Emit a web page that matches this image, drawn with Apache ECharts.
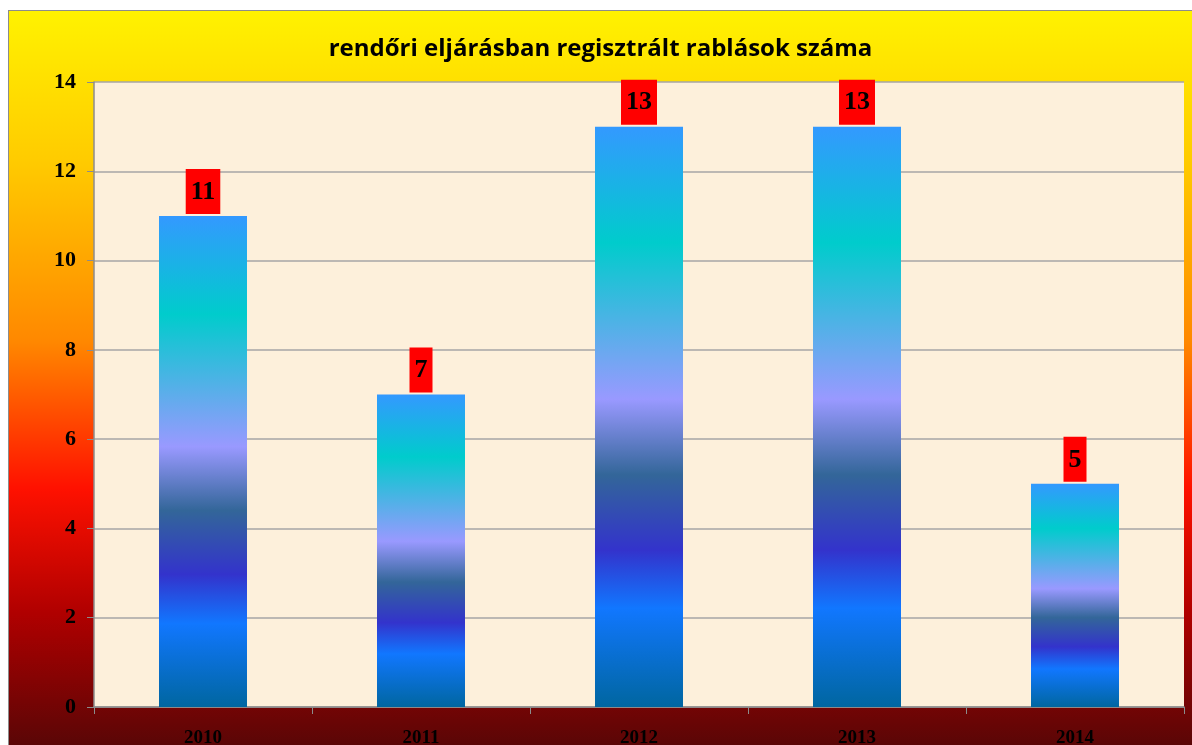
<!DOCTYPE html>
<html>
<head>
<meta charset="utf-8">
<script src="https://cdn.jsdelivr.net/npm/echarts@6/dist/echarts.min.js"></script>
<style>
html, body { margin: 0; padding: 0; background: #fff; }
#main {
    position: absolute; left: 8px; top: 10px;
    width: 1184px; height: 735px;
    border-left: 1px solid #8c8c8c; border-top: 1px solid #8c8c8c;
    box-sizing: border-box;
}
</style>
</head>
<body>
<div id="main"></div>
<script>
var years = ['2010', '2011', '2012', '2013', '2014'];
var robberies = [11, 7, 13, 13, 5];
var titleText = 'rendőri eljárásban regisztrált rablások száma';

var myChart = echarts.init(document.getElementById('main'));

var barGradient = new echarts.graphic.LinearGradient(0, 0, 0, 1, [
    { offset: 0, color: '#3399ff' },
    { offset: 0.2, color: '#00cccc' },
    { offset: 0.47, color: '#9999ff' },
    { offset: 0.6, color: '#336699' },
    { offset: 0.73, color: '#3333cc' },
    { offset: 0.83, color: '#1177ff' },
    { offset: 1, color: '#0066a0' }
]);

var option = {
    backgroundColor: new echarts.graphic.LinearGradient(0, 0, 0, 1, [
        { offset: 0, color: '#fff200' },
        { offset: 0.2, color: '#ffcc00' },
        { offset: 0.45, color: '#ff8800' },
        { offset: 0.65, color: '#ff1100' },
        { offset: 0.82, color: '#b00000' },
        { offset: 1, color: '#5a0606' }
    ]),
    title: {
        text: titleText,
        left: 'center',
        top: 21,
        textStyle: {
            fontFamily: 'Open Sans',
            fontWeight: 'bold',
            fontSize: 24,
            color: '#000'
        }
    },
    grid: {
        left: 85,
        top: 71,
        right: 8,
        bottom: 38,
        outerBoundsMode: 'none',
        show: true,
        backgroundColor: '#fdf0db',
        borderWidth: 0
    },
    xAxis: {
        type: 'category',
        data: years,
        axisLine: { lineStyle: { color: '#8c8c8c', width: 1.5 } },
        axisTick: { show: true, length: 7, lineStyle: { color: '#8c8c8c' } },
        axisLabel: {
            margin: 22,
            fontFamily: 'Liberation Serif',
            fontWeight: 'bold',
            fontSize: 19,
            color: '#000'
        }
    },
    yAxis: {
        type: 'value',
        min: 0,
        max: 14,
        interval: 2,
        axisLine: { show: true, lineStyle: { color: '#8c8c8c', width: 1.5 } },
        axisTick: { show: true, length: 7, lineStyle: { color: '#8c8c8c' } },
        splitLine: { lineStyle: { color: '#a6a6a6', width: 1.5 } },
        axisLabel: {
            margin: 18,
            fontFamily: 'Liberation Serif',
            fontWeight: 'bold',
            fontSize: 22,
            color: '#000'
        }
    },
    series: [{
        type: 'bar',
        data: robberies,
        barWidth: 88,
        itemStyle: { color: barGradient },
        label: {
            show: true,
            position: 'top',
            distance: 2,
            backgroundColor: '#ff0000',
            padding: [10, 5, 9, 5],
            fontFamily: 'Liberation Serif',
            fontWeight: 'bold',
            fontSize: 26,
            color: '#000'
        }
    }]
};

myChart.setOption(option);
</script>
</body>
</html>
